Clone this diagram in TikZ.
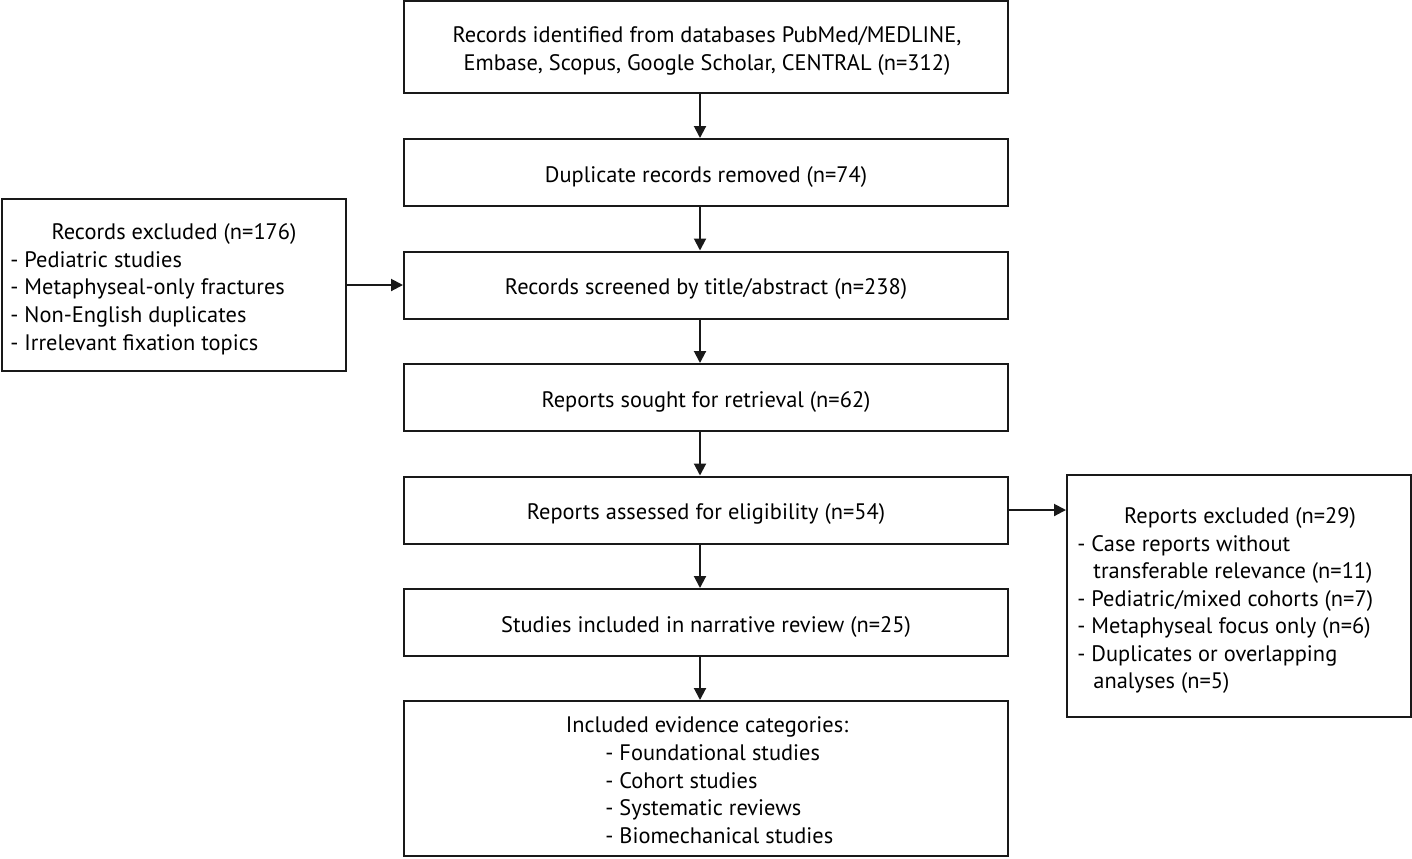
\documentclass[tikz,border=0pt]{standalone}
\usepackage{fontspec}
\setmainfont{PT Sans}
\usetikzlibrary{arrows.meta}
\begin{document}
\begin{tikzpicture}[x=0.5pt,y=-0.5pt,
  box/.style={draw=black!90, line width=1pt, minimum width=302pt, inner sep=0pt},
  ft/.style={font=\fontsize{11.2pt}{13.75pt}\selectfont, text height=11pt, text depth=1.5pt},
  txt/.style={inner sep=0pt, ft},
  arr/.style={draw=black!90, line width=1pt, -{Triangle[length=6pt,width=6pt]}}
]
\useasboundingbox (0,0) rectangle (1412,858);
\node[box, minimum height=46pt] (top) at (706,47) {};
\node[txt] (t1) at (707,33) {Records identified from databases PubMed/MEDLINE,};
\node[txt] (t2) at (707,61) {Embase, Scopus, Google Scholar, CENTRAL (n=312)};
\node[box, minimum height=33.5pt, ft] (dup) at (706,172.5) {Duplicate records removed (n=74)};
\node[box, minimum height=33.5pt, ft] (scr) at (706,285) {Records screened by title/abstract (n=238)};
\node[box, minimum height=33.5pt, ft] (sou) at (706,397.5) {Reports sought for retrieval (n=62)};
\node[box, minimum height=33.5pt, ft] (ass) at (706,510) {Reports assessed for eligibility (n=54)};
\node[box, minimum height=33.5pt, ft] (inc) at (706,622.5) {Studies included in narrative review (n=25)};
\node[box, minimum height=77.5pt] (evi) at (706,778.5) {};
\node[box, minimum width=172pt, minimum height=86pt] (lft) at (174,285) {};
\node[box, minimum width=172pt, minimum height=121pt] (rgt) at (1239,596) {};
% evidence text
\node[txt] (e0) at (707,723) {Included evidence categories:};
\node[txt, anchor=west] (e1) at (605,751) {- Foundational studies};
\node[txt, anchor=west] (e2) at (605,779) {- Cohort studies};
\node[txt, anchor=west] (e3) at (605,806) {- Systematic reviews};
\node[txt, anchor=west] (e4) at (605,834) {- Biomechanical studies};
% left text
\node[txt] (l0) at (174,230) {Records excluded (n=176)};
\node[txt, anchor=west] (l1) at (10,258) {- Pediatric studies};
\node[txt, anchor=west] (l2) at (10,285) {- Metaphyseal-only fractures};
\node[txt, anchor=west] (l3) at (10,313) {- Non-English duplicates};
\node[txt, anchor=west] (l4) at (10,341) {- Irrelevant fixation topics};
% right text
\node[txt] (r0) at (1240,514) {Reports excluded (n=29)};
\node[txt, anchor=west] (r1) at (1077,542) {- Case reports without};
\node[txt, anchor=west] (r1b) at (1093,569) {transferable relevance (n=11)};
\node[txt, anchor=west] (r2) at (1077,597) {- Pediatric/mixed cohorts (n=7)};
\node[txt, anchor=west] (r3) at (1077,624) {- Metaphyseal focus only (n=6)};
\node[txt, anchor=west] (r4) at (1077,652) {- Duplicates or overlapping};
\node[txt, anchor=west] (r4b) at (1093,679) {analyses (n=5)};
% arrows
\draw[arr] ([xshift=-3pt]top.south) -- ([xshift=-3pt]dup.north);
\draw[arr] ([xshift=-3pt]dup.south) -- ([xshift=-3pt]scr.north);
\draw[arr] ([xshift=-3pt]scr.south) -- ([xshift=-3pt]sou.north);
\draw[arr] ([xshift=-3pt]sou.south) -- ([xshift=-3pt]ass.north);
\draw[arr] ([xshift=-3pt]ass.south) -- ([xshift=-3pt]inc.north);
\draw[arr] ([xshift=-3pt]inc.south) -- ([xshift=-3pt]evi.north);
\draw[arr] (lft.east) -- (scr.west);
\draw[arr] (ass.east) -- (ass.east -| rgt.west);
\end{tikzpicture}
\end{document}
